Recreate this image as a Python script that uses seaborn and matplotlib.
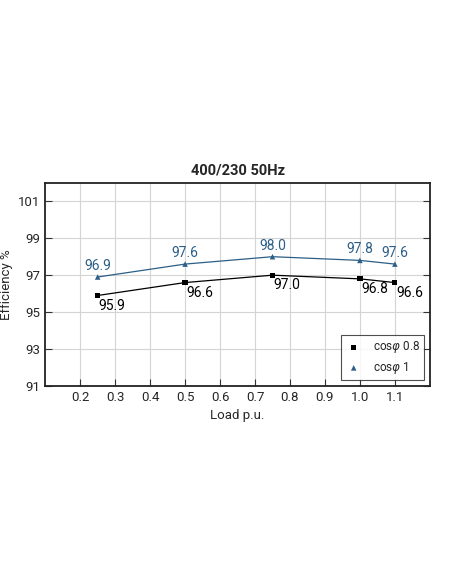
import matplotlib
matplotlib.use('Agg')
import matplotlib.pyplot as plt
import seaborn as sns
import pandas as pd

# data
load = [0.25, 0.5, 0.75, 1.0, 1.1]
eff_08 = [95.9, 96.6, 97.0, 96.8, 96.6]
eff_1 = [96.9, 97.6, 98.0, 97.8, 97.6]
x_ticks = [0.2, 0.3, 0.4, 0.5, 0.6, 0.7, 0.8, 0.9, 1.0, 1.1]
y_ticks = [91, 93, 95, 97, 99, 101]
lab_08 = 'cos$\\varphi$ 0.8'
lab_1 = 'cos$\\varphi$ 1'

blue = '#2b5f88'

sns.set_style('ticks')
plt.rcParams['font.family'] = ['Roboto', 'DejaVu Sans']
plt.rcParams['mathtext.fontset'] = 'dejavusans'

df = pd.DataFrame({'load': load * 2,
                   'eff': eff_08 + eff_1,
                   'series': [lab_08] * len(load) + [lab_1] * len(load)})

fig = plt.figure(figsize=(4.52, 5.84), dpi=100)
ax = fig.add_axes([0.1, 0.339, 0.851, 0.348])

d08 = df[df['series'] == lab_08]
d1 = df[df['series'] == lab_1]
sns.lineplot(data=d08, x='load', y='eff', color='black', linewidth=0.9, ax=ax, legend=False)
sns.lineplot(data=d1, x='load', y='eff', color=blue, linewidth=0.9, ax=ax, legend=False)
sns.scatterplot(data=d08, x='load', y='eff', color='black', marker='s', s=14, ax=ax,
                label=lab_08, edgecolor='none', zorder=3)
sns.scatterplot(data=d1, x='load', y='eff', color=blue, marker='^', s=16, ax=ax,
                label=lab_1, edgecolor='none', zorder=3)

for x, y in zip(load, eff_1):
    ax.text(x, y + 0.22, f'{y:.1f}', color=blue, ha='center', va='bottom', fontsize=10)
for x, y in zip(load, eff_08):
    ax.text(x + 0.003, y - 0.18, f'{y:.1f}', color='black', ha='left', va='top', fontsize=10)

ax.set_xlim(0.1, 1.2)
ax.set_ylim(91, 102)
ax.set_xticks(x_ticks)
ax.set_xticklabels([f'{t:.1f}' for t in x_ticks])
ax.set_yticks(y_ticks)
ax.grid(True, color='#d4d4d4', linewidth=0.8)
ax.set_axisbelow(True)
ax.tick_params(direction='in', length=5, width=0.8, labelsize=9.5, top=False, right=True, color='#333333')
for s in ax.spines.values():
    s.set_linewidth(1.3)
    s.set_color('#222222')

ax.set_title('400/230 50Hz', fontsize=10.5, fontweight='bold', pad=6)
ax.set_xlabel('Load p.u.', fontsize=9.5)
ax.set_ylabel('Efficiency %', fontsize=9.5)

leg = ax.legend(loc='lower right', frameon=True, fancybox=False, fontsize=8.5,
                borderaxespad=0.5, handlelength=1.4, handletextpad=0.9,
                borderpad=0.35, labelspacing=0.4, edgecolor='#222222')
leg.get_frame().set_linewidth(0.8)

fig.savefig('out.png', dpi=100)
